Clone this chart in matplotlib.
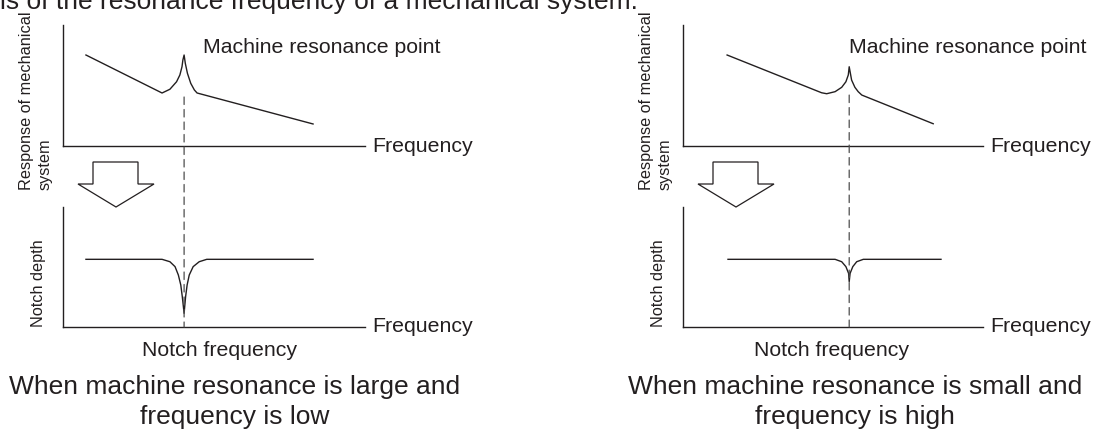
import matplotlib
matplotlib.use("Agg")
import matplotlib.pyplot as plt
from matplotlib.patches import Polygon, ConnectionPatch

# ---------------------
# data (x: % of frequency axis, y: % of panel height)
# ---------------------
left_top_x = [7.6, 32.8, 35.4, 37.6, 38.7, 39.4, 39.7, 40.1, 40.5, 41.2, 42.3, 43.5, 44.4, 82.8]
left_top_y = [75.2, 43.8, 46.9, 53.1, 58.7, 65.5, 71.1, 75.2, 68.3, 60.1, 51.8, 46.3, 43.8, 18.2]

left_bot_x = [7.6, 32.8, 35.4, 37.1, 38.2, 39.0, 39.5, 40.1, 40.6, 41.1, 41.8, 43.1, 45.1, 47.6, 82.8]
left_bot_y = [56.4, 56.4, 54.4, 50.3, 43.3, 35.0, 25.3, 11.4, 25.3, 35.0, 43.3, 50.3, 54.4, 56.4, 56.4]

right_top_x = [14.7, 46.2, 47.9, 50.7, 52.9, 54.3, 55.1, 55.4, 55.7, 56.2, 57.3, 58.4, 59.6, 83.4]
right_top_y = [75.2, 44.0, 43.2, 44.9, 48.5, 53.1, 58.7, 65.5, 61.4, 54.5, 48.5, 44.9, 42.1, 18.4]

right_bot_x = [15.0, 50.7, 52.9, 54.3, 55.2, 55.4, 55.7, 56.6, 57.9, 60.1, 86.0]
right_bot_y = [56.4, 56.4, 54.4, 50.3, 44.7, 37.8, 44.7, 50.3, 54.4, 56.4, 56.4]

left_notch_x = 40.1
right_notch_x = 55.4

title_text = "ls of the resonance frequency of a mechanical system."
captions = [["When machine resonance is large and", "frequency is low"],
            ["When machine resonance is small and", "frequency is high"]]

# ---------------------
# layout
# ---------------------
W, H = 1104, 434
INK = "#231f20"
plt.rcParams["font.family"] = ["Liberation Sans", "DejaVu Sans"]

fig = plt.figure(figsize=(W / 100, H / 100), dpi=100)


def box(x0, y0, x1, y1):
    return [x0 / W, 1 - y1 / H, (x1 - x0) / W, (y1 - y0) / H]


def ftext(x, y, s, **kw):
    kw.setdefault("color", INK)
    fig.text(x / W, 1 - y / H, s, **kw)


def panel(rect, xs, ys):
    ax = fig.add_axes(box(*rect))
    ax.plot(xs, ys, color=INK, lw=1.0, clip_on=False)
    ax.set_xlim(0, 100)
    ax.set_ylim(0, 100)
    ax.set_xticks([])
    ax.set_yticks([])
    for side in ("top", "right"):
        ax.spines[side].set_visible(False)
    for side in ("left", "bottom"):
        ax.spines[side].set_color(INK)
        ax.spines[side].set_linewidth(1.0)
    ax.patch.set_alpha(0)
    return ax


ftext(0, 9.5, title_text, fontsize=19, va="baseline", ha="left")

groups = [
    (63, 365, left_top_x, left_top_y, left_bot_x, left_bot_y, left_notch_x, 40.5, 235, 220),
    (683, 983, right_top_x, right_top_y, right_bot_x, right_bot_y, right_notch_x, 42.1, 855, 831),
]

for i, (x0, x1, tx, ty, bx, by, nx, dash_top, cap_cx, nf_cx) in enumerate(groups):
    ax_t = panel((x0, 25, x1, 146), tx, ty)
    ax_b = panel((x0, 207, x1, 327), bx, by)

    # dashed line through both panels at the notch frequency
    con = ConnectionPatch(xyA=(nx, dash_top), coordsA=ax_t.transData,
                          xyB=(nx, 0), coordsB=ax_b.transData,
                          color="#4d4d4d", lw=0.9, linestyle=(0, (6, 4)))
    fig.add_artist(con)

    peak_px = x0 + nx / 100 * (x1 - x0)
    ftext(peak_px + 19 if i == 0 else peak_px, 53, "Machine resonance point",
          fontsize=15.3, va="baseline", ha="left")
    ftext(x1 + 7, 151.5, "Frequency", fontsize=15.3, va="baseline", ha="left")
    ftext(x1 + 7, 332.5, "Frequency", fontsize=15.3, va="baseline", ha="left")

    ftext(x0 - 27, 190, "Response of mechanical\nsystem", fontsize=11.7,
          rotation=90, ha="center", va="bottom", multialignment="left",
          linespacing=1.25)
    ftext(x0 - 25, 283.5, "Notch depth", fontsize=11.7, rotation=90,
          ha="center", va="center")

    ftext(nf_cx, 356, "Notch frequency", fontsize=15.3, va="baseline", ha="center")
    ftext(cap_cx, 394, captions[i][0], fontsize=19, va="baseline", ha="center")
    ftext(cap_cx, 424, captions[i][1], fontsize=19, va="baseline", ha="center")

    # hollow down arrow between the panels
    ax_l = x0 + 30
    pts = [(ax_l, 162), (ax_l + 45, 162), (ax_l + 45, 184), (ax_l + 61, 184),
           (ax_l + 23, 207), (ax_l - 15, 184), (ax_l, 184)]
    arrow = Polygon([(px / W, 1 - py / H) for px, py in pts], closed=True,
                    transform=fig.transFigure, facecolor="white",
                    edgecolor=INK, lw=0.9)
    fig.add_artist(arrow)

fig.savefig("out.png", dpi=100, facecolor="white")
